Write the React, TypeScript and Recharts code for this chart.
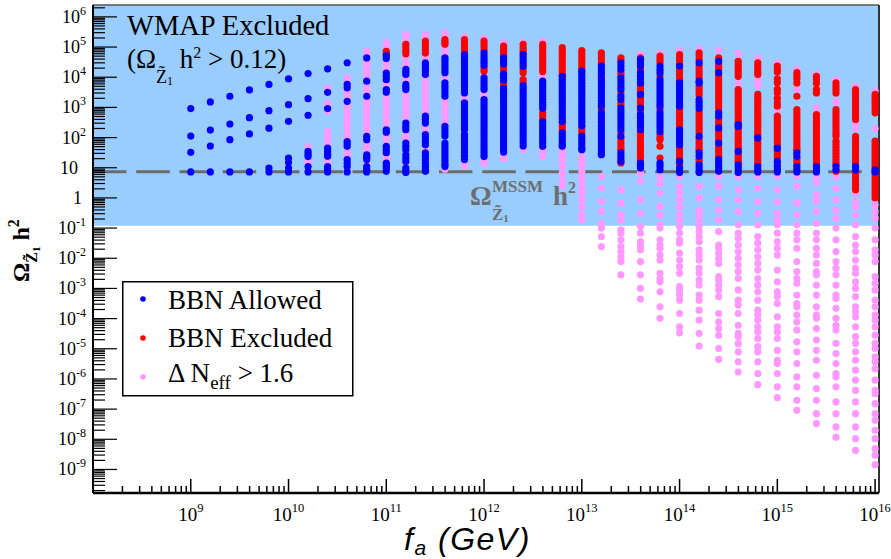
import React from "react";
import {
  ScatterChart,
  Scatter,
  XAxis,
  YAxis,
  ReferenceArea,
  ReferenceLine,
  Legend,
} from "recharts";

// f_a columns, log10(GeV)
const faExp = [
  9.0, 9.2, 9.4, 9.6, 9.8, 10.0, 10.2, 10.4, 10.6, 10.8, 11.0, 11.2, 11.4, 11.6,
  11.8, 12.0, 12.2, 12.4, 12.6, 12.8, 13.0, 13.2, 13.4, 13.6, 13.8, 14.0, 14.2,
  14.4, 14.6, 14.8, 15.0, 15.2, 15.4, 15.6, 15.8, 16.0,
];

// log10(Omega h^2) for every point, one list per f_a column
const blueLog: number[][] = [
  [2.96, 2.05, 1.51, 0.86],
  [3.18, 2.25, 1.72, 0.86],
  [3.37, 2.45, 1.93, 0.86],
  [3.58, 2.66, 2.12, 0.86],
  [3.76, 2.89, 2.31, 0.99, 0.86],
  [3.95, 3.09, 2.54, 1.32, 1.18, 0.99, 0.86],
  [4.12, 3.29, 2.74, 1.54, 1.45, 1.37, 1.04, 0.86],
  [4.28, 3.5, 2.96, 1.65, 1.55, 1.45, 1.38, 1.04, 0.95, 0.86],
  [4.48, 3.76, 3.65, 3.2, 1.87, 1.79, 1.71, 1.27, 1.15, 1.04, 0.86],
  [4.64, 3.87, 3.37, 2.04, 1.93, 1.43, 1.35, 1.27, 1.04, 0.94, 0.86],
  [4.72, 4.62, 4.14, 4.03, 3.92, 3.59, 3.5, 2.26, 2.18, 1.71, 1.6, 1.5, 1.15, 1.07, 0.99, 0.88],
  [4.26, 4.17, 4.09, 3.76, 3.67, 3.59, 2.48, 2.37, 2.26, 1.82, 1.71, 1.6, 1.43, 1.32, 1.21, 0.99, 0.9, 0.84],
  [4.48, 4.39, 4.3, 4.2, 4.09, 2.71, 2.6, 2.48, 2.1, 2.0, 1.88, 1.76, 1.49, 1.38, 1.27, 1.15, 1.05, 0.96, 0.88],
  [4.64, 4.55, 4.45, 4.35, 4.25, 4.15, 3.81, 3.7, 3.6, 3.48, 3.37, 2.37, 2.26, 2.15, 2.05, 1.82, 1.72, 1.62, 1.52, 1.42, 1.32, 1.22, 1.12, 1.04],
  [4.75, 4.65, 4.55, 4.45, 4.35, 4.25, 4.15, 4.05, 3.95, 3.85, 3.75, 3.65, 3.55, 3.48, 3.15, 3.05, 2.95, 2.85, 2.75, 2.65, 2.55, 2.45, 2.35, 2.26, 2.1, 2.0, 1.9, 1.8, 1.7, 1.6, 1.5, 1.4, 1.27],
  [4.8, 4.7, 4.6, 4.5, 4.4, 3.98, 3.88, 3.78, 3.68, 3.59, 3.26, 3.16, 3.06, 2.96, 2.86, 2.76, 2.66, 2.56, 2.46, 2.36, 2.26, 2.16, 2.06, 1.96, 1.86, 1.76, 1.66, 1.56, 1.46, 1.37],
  [4.64, 4.54, 4.44, 4.1, 4.0, 3.9, 3.62, 3.52, 3.42, 3.32, 3.22, 3.12, 3.02, 2.92, 2.82, 2.72, 2.62, 2.52, 2.42, 2.32, 2.22, 2.12, 2.02, 1.92, 1.82, 1.72, 1.62, 1.52],
  [4.75, 4.65, 4.55, 4.45, 4.36, 3.72, 3.62, 3.52, 3.42, 3.32, 3.22, 3.12, 3.02, 2.92, 2.82, 2.72, 2.62, 2.52, 2.42, 2.32, 2.22, 2.12, 2.02, 1.92, 1.82, 1.72],
  [3.87, 3.77, 3.67, 3.57, 3.47, 3.37, 3.27, 3.17, 3.07, 2.97, 2.52, 2.42, 2.32, 2.22, 2.12, 2.02, 1.92, 1.82, 1.71],
  [4.03, 3.93, 3.83, 3.73, 3.63, 3.53, 3.43, 3.33, 3.23, 3.13, 3.03, 2.93, 2.83, 2.73, 2.63, 2.53, 2.16, 2.06, 1.96, 1.86, 1.76, 1.71],
  [4.2, 4.1, 4.0, 3.9, 3.8, 3.7, 3.6, 3.5, 3.4, 3.3, 3.2, 3.1, 3.0, 2.9, 2.8, 2.7, 2.6, 2.5, 2.4, 2.05, 1.95, 1.85, 1.75, 1.65, 1.6],
  [4.37, 4.27, 4.17, 4.09, 3.92, 3.82, 3.72, 3.62, 3.52, 3.42, 3.32, 3.22, 3.12, 3.04, 2.82, 2.72, 2.62, 2.49, 2.39, 2.29, 2.19, 2.09, 1.99, 1.89, 1.79, 1.69, 1.59, 1.49, 1.43],
  [4.48, 4.37, 4.26, 3.98, 3.88, 3.78, 3.68, 3.59, 3.37, 3.26, 2.98, 2.88, 2.78, 2.68, 2.58, 2.48, 2.37, 2.26, 2.04, 1.49, 1.39, 1.29, 1.21],
  [4.59, 4.48, 4.37, 4.15, 4.05, 3.92, 3.81, 3.43, 2.98, 2.76, 2.66, 2.56, 2.46, 2.36, 2.26, 1.15, 1.07, 0.99],
  [4.37, 4.26, 4.15, 3.92, 3.82, 3.72, 3.62, 3.52, 3.42, 3.32, 3.22, 3.12, 3.04, 2.82, 2.72, 2.62, 2.52, 2.42, 2.32, 2.2, 1.15, 1.05, 0.93],
  [4.37, 3.81, 3.71, 3.61, 3.51, 3.41, 3.31, 3.21, 3.11, 3.04, 2.26, 2.16, 2.06, 1.96, 1.86, 1.76, 1.21, 0.99, 0.9, 0.84],
  [4.48, 3.87, 3.81, 3.26, 3.16, 3.06, 2.96, 2.04, 1.49, 1.38, 1.1, 1.0, 0.9, 0.84],
  [4.53, 4.15, 2.82, 2.71, 2.32, 1.82, 1.27, 1.17, 1.07, 0.97, 0.88],
  [2.43, 2.37, 1.54, 1.1, 1.0, 0.9, 0.84],
  [1.99, 1.04, 0.94, 0.86],
  [1.65, 1.21, 1.04, 0.93, 0.86],
  [1.49, 1.38, 1.04, 0.93, 0.86],
  [1.04, 0.93, 0.86],
  [1.04, 0.93],
  [1.04, 0.93],
  [0.93, 0.86],
];

const redLog: number[][] = [
  [], [], [], [], [], [], [], [], [], [],
  [4.86, 4.78],
  [5.09, 4.98, 4.88, 4.78],
  [5.2, 5.1, 5.0, 4.9, 4.8],
  [5.25, 5.17, 5.09],
  [5.25, 5.15, 5.07, 4.97, 4.87],
  [5.2, 5.1, 5.0, 4.9, 4.3, 4.2],
  [5.03, 4.93, 4.83, 4.73, 4.34, 4.24, 3.81, 3.72],
  [5.09, 4.98, 4.88, 4.8, 4.25, 4.15, 3.92, 3.82],
  [5.09, 4.99, 4.89, 4.79, 4.69, 4.59, 4.49, 4.39, 4.29, 4.19, 2.82, 2.72, 2.62],
  [4.98, 4.88, 4.78, 4.68, 4.58, 4.48, 4.38, 4.28, 4.18, 4.08, 2.48, 2.37, 2.26],
  [4.88, 4.78, 4.68, 4.58, 4.48, 4.38, 4.28, 2.36, 2.26, 2.15],
  [4.81, 4.71, 4.61, 4.5, 4.0, 2.93, 2.55],
  [4.64, 4.56, 4.16, 4.08, 3.48, 3.16, 3.07, 2.15, 1.95, 1.85, 1.75, 1.65, 1.57, 1.16],
  [4.64, 4.26, 3.7, 3.6, 3.5, 3.33, 3.23, 3.13, 3.05, 2.88, 2.16, 2.06, 1.96, 1.86, 1.76, 1.66, 1.55, 1.45, 1.35, 1.25],
  [4.7, 4.6, 4.5, 4.04, 2.93, 2.1, 2.0, 1.93, 1.71, 1.32],
  [4.75, 4.65, 4.55, 4.45, 4.27, 4.17, 4.07, 3.97, 3.89, 2.94, 2.84, 2.74, 2.64, 2.54, 2.44, 2.35, 1.66, 1.56, 1.46, 1.36, 1.3, 1.1],
  [4.81, 4.71, 4.6, 4.38, 4.28, 4.18, 4.08, 3.98, 3.7, 3.6, 3.5, 3.4, 2.86, 2.76, 2.66, 2.56, 2.46, 2.36, 2.26, 2.16, 1.94, 1.84, 1.74, 1.64, 1.57, 1.28, 1.2],
  [4.64, 4.43, 4.33, 4.25, 4.05, 3.95, 3.85, 3.75, 3.65, 3.55, 3.45, 3.35, 3.25, 3.15, 3.05, 2.95, 2.6, 2.5, 2.42, 2.22, 2.12, 2.02, 1.92, 1.72, 1.62, 1.52, 1.42, 1.35],
  [4.53, 4.43, 4.33, 4.23, 4.13, 4.03, 3.59, 3.49, 3.39, 3.29, 3.19, 3.09, 2.99, 2.89, 2.79, 2.69, 2.59, 2.5, 2.3, 2.2, 2.1, 2.0, 1.9, 1.8, 1.7, 1.62, 1.45, 1.35, 1.25, 1.18],
  [4.48, 4.38, 4.28, 4.18, 4.09, 3.43, 3.33, 3.23, 3.13, 3.03, 2.93, 2.83, 2.73, 2.63, 2.53, 2.43, 2.33, 2.23, 2.13, 2.06, 1.9, 1.8, 1.7, 1.6, 1.5, 1.4, 1.3, 1.2, 1.12],
  [4.37, 4.27, 4.17, 3.95, 3.82, 3.6, 3.48, 3.3, 3.15, 3.04, 2.71, 2.61, 2.51, 2.41, 2.31, 2.21, 2.11, 2.01, 1.91, 1.81, 1.71, 1.55, 1.45, 1.35, 1.12],
  [4.15, 4.05, 3.95, 3.81, 3.37, 2.93, 2.83, 2.73, 2.63, 2.53, 2.43, 2.33, 2.23, 2.13, 2.03, 1.93, 1.83, 1.73, 1.63, 1.58, 1.3, 1.2, 1.12],
  [4.03, 3.93, 3.8, 3.6, 3.48, 2.76, 2.66, 2.56, 2.46, 2.36, 2.26, 2.16, 2.06, 1.96, 1.86, 1.76, 1.66, 1.56, 1.46, 1.36, 1.26, 1.16, 1.1],
  [3.81, 3.7, 3.59, 3.48, 2.93, 2.83, 2.73, 2.63, 2.53, 2.43, 2.33, 2.23, 2.13, 2.04, 1.88, 1.78, 1.68, 1.58, 1.48, 1.38, 1.28, 1.18, 1.1, 0.88],
  [3.59, 3.49, 3.39, 3.29, 3.19, 3.09, 2.99, 2.89, 2.79, 2.69, 2.6, 2.04, 1.94, 1.84, 1.74, 1.64, 1.54, 1.44, 1.34, 1.24, 1.14, 0.84, 0.74, 0.64, 0.54, 0.44, 0.34, 0.27],
  [3.43, 3.33, 3.23, 3.13, 3.03, 2.93, 2.82, 1.88, 1.78, 1.68, 1.58, 1.48, 1.38, 1.28, 1.18, 1.08, 1.0, 0.8, 0.7, 0.6, 0.5, 0.4, 0.3, 0.2, 0.1, 0.0],
];

const pinkLog: number[][] = [
  [], [], [], [], [], [],
  [1.71, 1.2, 1.1],
  [3.65, 3.15, 3.0, 2.87, 2.21, 2.04, 1.92, 1.8, 1.72, 1.25, 1.15, 0.9],
  [3.98, 3.85, 3.7, 3.55, 3.4, 3.3, 3.1, 2.95, 2.8, 2.65, 2.5, 2.35, 2.2, 2.05, 1.95, 1.6, 1.45, 1.35, 0.95],
  [4.86, 4.75, 4.5, 4.35, 4.2, 4.05, 3.7, 3.55, 3.45, 3.2, 3.05, 2.9, 2.75, 2.6, 2.45, 2.3, 2.15, 1.8, 1.65, 1.55, 1.15],
  [5.15, 5.0, 4.5, 4.35, 4.25, 3.8, 3.7, 3.35, 3.2, 3.05, 2.9, 2.75, 2.6, 2.45, 2.05, 1.9, 1.35, 1.25],
  [5.42, 5.28, 5.18, 4.65, 4.5, 4.38, 3.95, 3.85, 3.45, 3.3, 3.15, 3.0, 2.85, 2.7, 2.6, 2.1, 1.95, 1.1],
  [5.42, 5.3, 4.7, 4.6, 3.95, 3.8, 3.65, 3.5, 3.35, 3.2, 3.05, 2.9, 2.8, 2.3, 2.2, 1.62],
  [5.47, 5.35, 4.98, 4.88, 4.76, 4.02, 3.92, 3.25, 3.1, 2.95, 2.8, 2.65, 2.5, 0.95],
  [5.35, 3.35, 3.25, 2.18, 1.15, 1.05],
  [5.3, 4.1, 3.45, 3.35, 1.25, 1.15],
  [5.14, 4.4, 1.4, 1.3],
  [5.14, 1.6],
  [5.2, 4.05, 3.95, 1.6, 1.49, 1.38],
  [1.6, 1.49, 1.38, 1.22, 1.05, 0.82, 0.6, 0.4],
  [1.38, 1.22, 1.05, 0.88, 0.7, 0.5, 0.33, 0.15, -0.06, -0.3, -0.56, -0.73],
  [0.71, 0.32, -0.12, -0.45, -0.84, -1.0, -1.28, -1.61],
  [0.27, -0.17, -0.56, -0.73, -1.06, -1.17, -1.39, -1.61, -1.78, -1.95, -2.11, -2.55],
  [4.75, 0.82, 0.56, -0.06, -0.51, -0.95, -1.17, -1.45, -1.61, -1.72, -2.11, -2.55, -3.0, -3.35],
  [4.81, 0.71, 0.49, 0.16, -0.28, -0.56, -0.89, -1.0, -1.39, -1.56, -1.67, -1.89, -2.06, -2.5, -2.67, -2.78, -3.11, -3.61, -3.99],
  [4.9, 0.71, 0.38, 0.16, -0.06, -0.3, -0.56, -0.73, -0.95, -1.17, -1.39, -1.5, -1.83, -2.06, -2.28, -2.5, -2.94, -3.05, -3.22, -3.39, -3.83, -4.27, -4.47],
  [4.94, 0.38, 0.0, -0.4, -0.56, -0.73, -0.95, -1.12, -1.28, -1.45, -1.72, -1.89, -2.06, -2.33, -2.5, -2.72, -2.89, -3.22, -3.39, -3.72, -4.05, -4.49, -4.91],
  [4.9, 0.71, 0.38, -0.06, -0.4, -0.73, -1.12, -1.56, -1.67, -1.83, -2.0, -2.17, -2.61, -2.72, -2.89, -3.05, -3.27, -3.83, -4.11, -4.33, -4.55, -4.99, -5.35],
  [4.79, 3.8, 0.71, 0.27, -0.06, -0.45, -0.89, -1.17, -1.34, -1.56, -1.78, -2.0, -2.22, -2.44, -2.67, -3.05, -3.39, -3.55, -3.83, -4.22, -4.49, -4.6, -4.83, -5.1, -5.43, -5.77],
  [4.64, 3.92, 3.8, 3.7, 0.71, 0.32, -0.12, -0.51, -0.89, -1.28, -1.5, -1.72, -1.95, -2.17, -2.39, -2.67, -2.89, -3.11, -3.39, -3.72, -3.88, -4.05, -4.27, -4.44, -4.66, -4.93, -5.1, -5.43, -5.82, -6.19],
  [4.48, 2.88, 0.71, 0.27, -0.12, -0.51, -0.73, -0.89, -1.17, -1.45, -1.67, -1.89, -2.39, -2.78, -3.11, -3.27, -3.5, -3.94, -4.27, -4.44, -4.66, -5.05, -5.38, -5.49, -5.82, -6.26, -6.62],
  [4.26, 3.6, 0.71, 0.38, -0.17, -0.56, -0.89, -1.17, -1.39, -1.67, -2.11, -2.44, -2.67, -2.83, -3.22, -3.5, -3.61, -3.88, -4.11, -4.38, -4.77, -5.1, -5.49, -5.93, -6.26, -6.71, -7.04],
  [4.09, 2.98, 0.71, 0.5, 0.1, -0.12, -0.45, -0.84, -1.17, -1.39, -1.67, -1.89, -2.17, -2.44, -2.55, -2.89, -3.22, -3.61, -3.88, -3.99, -4.33, -4.71, -5.05, -5.38, -5.88, -6.32, -6.71, -7.15, -7.48],
  [3.92, 3.2, 0.71, 0.32, -0.06, -0.4, -0.67, -1.0, -1.39, -1.78, -2.11, -2.33, -2.55, -2.89, -3.22, -3.33, -3.66, -3.99, -4.22, -4.38, -4.82, -5.16, -5.49, -5.82, -5.93, -6.26, -6.76, -7.15, -7.59, -7.93],
  [3.7, 2.45, 2.3, 0.16, -0.12, -0.28, -0.56, -0.89, -1.28, -1.56, -1.78, -2.06, -2.33, -2.5, -2.78, -3.0, -3.27, -3.61, -3.77, -3.94, -4.27, -4.6, -4.82, -5.1, -5.38, -5.71, -6.04, -6.38, -6.76, -7.15, -7.59, -7.98, -8.37],
  [3.54, 2.3, -0.23, -0.45, -0.67, -1.0, -1.39, -1.72, -1.89, -2.11, -2.61, -2.83, -3.05, -3.39, -3.61, -3.88, -4.05, -4.27, -4.55, -4.82, -4.99, -5.27, -5.43, -5.66, -6.04, -6.38, -6.49, -6.82, -7.15, -7.37, -7.7, -7.98, -8.31, -8.53, -8.84],
];

const xMajorExp = [9, 10, 11, 12, 13, 14, 15, 16];
const yMajorExp = [-9, -8, -7, -6, -5, -4, -3, -2, -1, 0, 1, 2, 3, 4, 5, 6];
const wmapLimit = 0.12;
const mssmOmega = 7.4;

const X_MIN = 1e8;
const X_MAX = Math.pow(10, 16.04);
const Y_MIN = Math.pow(10, -9.78);
const Y_MAX = Math.pow(10, 6.394);

const BLUE = "#0000ff";
const RED = "#ff0000";
const PINK = "#ff99ff";
const serif = "'Liberation Serif', 'Times New Roman', serif";
const sans = "'Liberation Sans', Arial, sans-serif";

function toPoints(cols: number[][]) {
  const pts: { x: number; y: number }[] = [];
  cols.forEach((col, i) =>
    col.forEach((v) => pts.push({ x: Math.pow(10, faExp[i]), y: Math.pow(10, v) }))
  );
  return pts;
}

const bluePts = toPoints(blueLog);
const redPts = toPoints(redLog);
const pinkPts = toPoints(pinkLog);

// decades plus 2..9 minor ticks inside the domain
function logTicks(min: number, max: number) {
  const out: number[] = [];
  for (let e = Math.floor(Math.log10(min)); e <= Math.ceil(Math.log10(max)); e++) {
    for (let m = 1; m <= 9; m++) {
      const v = m * Math.pow(10, e);
      if (v >= min * 1.0001 && v <= max * 0.9999) out.push(v);
    }
  }
  return out;
}

const xTicks = logTicks(X_MIN, X_MAX);
const yTicks = logTicks(Y_MIN, Y_MAX);

function majorExp(v: number) {
  const e = Math.round(Math.log10(v));
  return Math.abs(v / Math.pow(10, e) - 1) < 1e-6 ? e : null;
}

function XTick(props: any) {
  const { x, y, payload } = props;
  const e = majorExp(payload.value);
  const major = e !== null && xMajorExp.includes(e);
  return (
    <g>
      <line x1={x} x2={x} y1={y} y2={y - (major ? 14 : 7)} stroke="#000" strokeWidth={1.5} />
      {major && (
        <text x={x} y={y + 28} textAnchor="middle" fontFamily={serif} fontSize={19} fill="#000">
          10<tspan dy={-9} fontSize={12.5}>{e}</tspan>
        </text>
      )}
    </g>
  );
}

function YTick(props: any) {
  const { x, y, payload } = props;
  const e = majorExp(payload.value);
  const major = e !== null && yMajorExp.includes(e);
  let label = null;
  if (major) {
    if (e === 1 || e === 0) {
      label = (
        <text x={e === 1 ? 78 : 82} y={y + 6} textAnchor="end" fontFamily={serif} fontSize={18} fill="#000">
          {e === 1 ? "10" : "1"}
        </text>
      );
    } else {
      label = (
        <text x={86} y={y + 6} textAnchor="end" fontFamily={serif} fontSize={18} fill="#000">
          10<tspan dy={-8} fontSize={12}>{e}</tspan>
        </text>
      );
    }
  }
  return (
    <g>
      <line x1={x} x2={x + (major ? 24 : 12)} y1={y} y2={y} stroke="#000" strokeWidth={1.2} />
      {label}
    </g>
  );
}

function XTitle() {
  return (
    <text x={404} y={550} fontFamily={sans} fontStyle="italic" fontSize={32} letterSpacing={1.5} fill="#000">
      f<tspan dy={5} fontSize={21}>a</tspan>
      <tspan dy={-5}> (GeV)</tspan>
    </text>
  );
}

function YTitle() {
  return (
    <text
      transform="rotate(-90)"
      x={-282}
      y={29}
      fontFamily={serif}
      fontWeight="bold"
      fontSize={24}
      fill="#000"
    >
      Ω<tspan dy={8} fontSize={16}>{"Z\u0303"}</tspan>
      <tspan dy={3} fontSize={11}>1</tspan>
      <tspan dy={-11} fontSize={24}> h</tspan>
      <tspan dy={-10} fontSize={16}>2</tspan>
    </text>
  );
}

function WmapNote() {
  return (
    <g fontFamily={serif} fill="#000">
      <text x={127} y={35} fontSize={28.5}>
        WMAP Excluded
      </text>
      <text x={127} y={68} fontSize={27}>
        (Ω<tspan dy={15} fontSize={18}>{"Z\u0303"}</tspan>
        <tspan dy={2} fontSize={12}>1</tspan>
        <tspan dy={-17} fontSize={27}> h</tspan>
        <tspan dy={-10} fontSize={16}>2</tspan>
        <tspan dy={10} fontSize={27}> &gt; 0.12)</tspan>
      </text>
    </g>
  );
}

function MssmNote() {
  return (
    <text x={470} y={205} fontFamily={serif} fontWeight="bold" fontSize={27} fill="#6e6e6e">
      Ω<tspan x={492} y={192} fontSize={17}>MSSM</tspan>
      <tspan x={492} y={220} fontSize={17}>{"Z\u0303"}</tspan>
      <tspan dy={2} fontSize={11}>1</tspan>
      <tspan x={553} y={205} fontSize={27}>h</tspan>
      <tspan dy={-12} fontSize={16}>2</tspan>
    </text>
  );
}

function LegendBox() {
  return (
    <svg width={232} height={116} style={{ display: "block" }}>
      <rect x={0.75} y={0.75} width={230} height={114} fill="#fff" stroke="#000" strokeWidth={1.5} />
      <g fontFamily={serif} fontSize={27} fill="#000">
        <circle cx={21} cy={18} r={2.8} fill={BLUE} />
        <text x={46} y={28}>BBN Allowed</text>
        <circle cx={21} cy={57} r={2.8} fill={RED} />
        <text x={46} y={66}>BBN Excluded</text>
        <circle cx={21} cy={96} r={2.8} fill={PINK} />
        <text x={46} y={101}>
          Δ N<tspan dy={7} fontSize={19}>eff</tspan>
          <tspan dy={-7}> &gt; 1.6</tspan>
        </text>
      </g>
    </svg>
  );
}

const dot = (color: string) => (props: any) =>
  <circle cx={props.cx} cy={props.cy} r={3.6} fill={color} />;

export default function App() {
  return (
    <div style={{ position: "absolute", left: 0, top: 0, background: "#fff" }}>
      <ScatterChart width={891} height={559} margin={{ top: 5, right: 12, bottom: 0, left: 0 }}>
        <XAxis
          type="number"
          dataKey="x"
          scale="log"
          domain={[X_MIN, X_MAX]}
          allowDataOverflow
          ticks={xTicks}
          interval={0}
          tickSize={0}
          tickMargin={0}
          tickLine={false}
          tick={(p: any) => <XTick {...p} />}
          axisLine={{ stroke: "#000", strokeWidth: 2.5 }}
          height={66}
          label={<XTitle />}
        />
        <YAxis
          type="number"
          dataKey="y"
          scale="log"
          domain={[Y_MIN, Y_MAX]}
          allowDataOverflow
          ticks={yTicks}
          interval={0}
          tickSize={0}
          tickMargin={0}
          tickLine={false}
          tick={(p: any) => <YTick {...p} />}
          axisLine={{ stroke: "#000", strokeWidth: 2 }}
          width={93}
          label={<YTitle />}
        />
        <ReferenceArea
          y1={wmapLimit}
          y2={Y_MAX}
          fill="#99ccff"
          fillOpacity={1}
          stroke="none"
          ifOverflow="visible"
          label={<WmapNote />}
        />
        <Scatter name="pink" data={pinkPts} fill={PINK} shape={dot(PINK)} isAnimationActive={false} />
        <Scatter name="red" data={redPts} fill={RED} shape={dot(RED)} isAnimationActive={false} />
        <Scatter name="blue" data={bluePts} fill={BLUE} shape={dot(BLUE)} isAnimationActive={false} />
        <ReferenceLine
          y={mssmOmega}
          stroke="#6b6b6b"
          strokeWidth={3}
          strokeDasharray="33.5 9.75"
          ifOverflow="visible"
          label={<MssmNote />}
        />
        <ReferenceLine y={Y_MAX} stroke="#555" strokeWidth={1.5} ifOverflow="visible" />
        <ReferenceLine x={X_MAX} stroke="#333" strokeWidth={2} ifOverflow="visible" />
        <Legend
          layout="horizontal"
          verticalAlign="middle"
          align="center"
          wrapperStyle={{ left: 122, top: 281, width: 232, height: 116 }}
          content={() => <LegendBox />}
        />
      </ScatterChart>
    </div>
  );
}
